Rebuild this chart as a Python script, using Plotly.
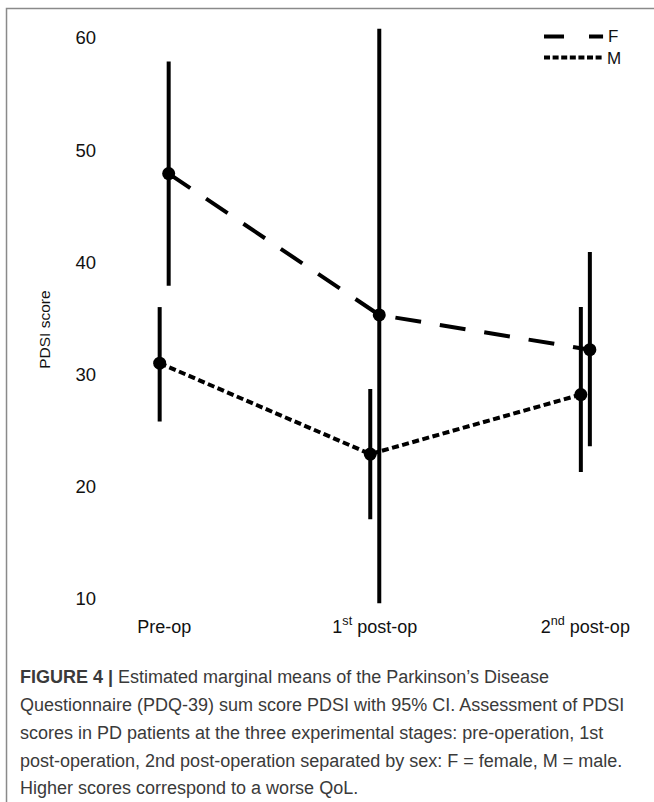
import plotly.graph_objects as go

# ---- data ----
categories = ["Pre-op", "1<sup>st</sup> post-op", "2<sup>nd</sup> post-op"]
f_mean = [47.9, 35.3, 32.2]
f_low = [37.9, 9.6, 23.6]
f_high = [57.9, 60.8, 40.9]
m_mean = [31.0, 22.9, 28.2]
m_low = [25.8, 17.1, 21.3]
m_high = [36.0, 28.7, 36.0]
y_ticks = [10, 20, 30, 40, 50, 60]
y_title = "PDSI score"
caption_lines = [
    "<b>FIGURE 4 |</b> Estimated marginal means of the Parkinson’s Disease",
    "Questionnaire (PDQ-39) sum score PDSI with 95% CI. Assessment of PDSI",
    "scores in PD patients at the three experimental stages: pre-operation, 1st",
    "post-operation, 2nd post-operation separated by sex: F = female, M = male.",
    "Higher scores correspond to a worse QoL.",
]

# ---- layout geometry ----
FW, FH = 654, 802
XR = [-0.3, 2.25]
YR = [9, 61.5]
L, R, T, B = 101.4, 16.1, 20.5, 192.0
PW, PH = FW - L - R, FH - T - B
DODGE = 0.0214


def px_x(px):
    return (px - L) / PW


def px_y(py):
    return 1 - (py - T) / PH


idx = list(range(len(categories)))
x_f = [i + DODGE for i in idx]
x_m = [i - DODGE for i in idx]

fig = go.Figure()
fig.add_trace(go.Scatter(
    x=x_f, y=f_mean, mode="lines+markers", name="F",
    line=dict(color="black", width=4, dash="26px,19px"),
    marker=dict(color="black", size=13),
    error_y=dict(type="data", symmetric=False,
                 array=[h - m for h, m in zip(f_high, f_mean)],
                 arrayminus=[m - l for m, l in zip(f_mean, f_low)],
                 color="black", thickness=4, width=0),
    cliponaxis=False, showlegend=False,
))
fig.add_trace(go.Scatter(
    x=x_m, y=m_mean, mode="lines+markers", name="M",
    line=dict(color="black", width=4, dash="7px,3.5px"),
    marker=dict(color="black", size=13),
    error_y=dict(type="data", symmetric=False,
                 array=[h - m for h, m in zip(m_high, m_mean)],
                 arrayminus=[m - l for m, l in zip(m_mean, m_low)],
                 color="black", thickness=4, width=0),
    cliponaxis=False, showlegend=False,
))

shapes = [
    # figure frame (right/bottom edges fall outside the picture)
    dict(type="rect", xref="paper", yref="paper",
         x0=px_x(7), x1=px_x(720), y0=px_y(8), y1=px_y(860),
         line=dict(color="#8a8a8a", width=1.5), layer="below"),
    # legend keys
    dict(type="line", xref="paper", yref="paper",
         x0=px_x(544), x1=px_x(603), y0=px_y(36), y1=px_y(36),
         line=dict(color="black", width=4, dash="20px,25px")),
    dict(type="line", xref="paper", yref="paper",
         x0=px_x(544), x1=px_x(603), y0=px_y(57), y1=px_y(57),
         line=dict(color="black", width=4, dash="6px,2.6px")),
]

annotations = [
    dict(text="F", xref="paper", yref="paper", x=px_x(606), y=px_y(36),
         xanchor="left", yanchor="middle", showarrow=False,
         font=dict(size=17, color="#111", family="Liberation Sans")),
    dict(text="M", xref="paper", yref="paper", x=px_x(605), y=px_y(58),
         xanchor="left", yanchor="middle", showarrow=False,
         font=dict(size=17, color="#111", family="Liberation Sans")),
    # y-axis title
    dict(text=y_title, xref="paper", yref="paper", x=px_x(45), y=px_y(330),
         xanchor="center", yanchor="middle", showarrow=False, textangle=-90,
         font=dict(size=15.5, color="#111", family="Liberation Sans")),
]
cap_y = [677, 705, 733, 761, 788]
for txt, yy in zip(caption_lines, cap_y):
    annotations.append(dict(
        text=txt, xref="paper", yref="paper", x=px_x(18), y=px_y(yy),
        xanchor="left", yanchor="middle", showarrow=False, align="left",
        font=dict(size=18, color="#3a3a3a", family="Liberation Sans")))

fig.update_layout(
    width=FW, height=FH,
    margin=dict(l=L, r=R, t=T, b=B, pad=0),
    paper_bgcolor="white", plot_bgcolor="white",
    font=dict(family="Liberation Sans", color="#111", size=16),
    xaxis=dict(range=XR, tickmode="array", tickvals=idx, ticktext=categories,
               showgrid=False, zeroline=False, showline=False, ticks="",
               ticklabelstandoff=4, tickfont=dict(size=18)),
    yaxis=dict(range=YR, tickmode="array", tickvals=y_ticks,
               showgrid=False, zeroline=False, showline=False, ticks="",
               ticklabelstandoff=4, tickfont=dict(size=18.5)),
    shapes=shapes, annotations=annotations, showlegend=False,
)

fig.write_html("out.html", config={"displayModeBar": False},
               post_script="document.body.style.margin='0';")
